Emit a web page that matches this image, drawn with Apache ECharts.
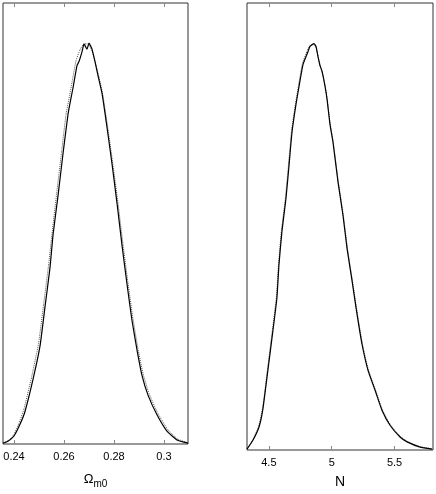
<!DOCTYPE html>
<html>
<head>
<meta charset="utf-8">
<script src="https://cdn.jsdelivr.net/npm/echarts@6/dist/echarts.min.js"></script>
<style>
  html, body { margin: 0; padding: 0; background: #fff; }
  #chart { width: 436px; height: 494px; }
</style>
</head>
<body>
<div id="chart"></div>
<script>
// Omega_m0 marginal posterior, [value, normalised density]
var omegaSolid = [
  [0.2356, 0.002], [0.2376, 0.007], [0.2400, 0.020], [0.2424, 0.049], [0.2444, 0.081],
  [0.2476, 0.161], [0.2504, 0.244], [0.2524, 0.342], [0.2544, 0.440], [0.2556, 0.521],
  [0.2576, 0.619], [0.2596, 0.724], [0.2616, 0.822], [0.2628, 0.863], [0.2636, 0.888],
  [0.2652, 0.944], [0.2660, 0.954], [0.2672, 0.978], [0.2680, 0.998], [0.2692, 0.985],
  [0.2700, 1.000], [0.2712, 0.985], [0.2724, 0.954], [0.2736, 0.919], [0.2752, 0.875],
  [0.2772, 0.790], [0.2792, 0.699], [0.2812, 0.601], [0.2832, 0.496], [0.2852, 0.399],
  [0.2872, 0.308], [0.2892, 0.235], [0.2912, 0.171], [0.2936, 0.122], [0.2972, 0.073],
  [0.3012, 0.032], [0.3052, 0.010], [0.3096, 0.002]
];
var omegaDotted = [
  [0.2356, 0.003], [0.2380, 0.010], [0.2400, 0.024], [0.2420, 0.052], [0.2440, 0.088],
  [0.2470, 0.166], [0.2498, 0.250], [0.2518, 0.346], [0.2538, 0.445], [0.2552, 0.524],
  [0.2570, 0.622], [0.2590, 0.727], [0.2608, 0.822], [0.2622, 0.868], [0.2632, 0.902],
  [0.2648, 0.956], [0.2664, 0.983], [0.2680, 0.998], [0.2696, 0.998], [0.2712, 0.980],
  [0.2726, 0.950], [0.2740, 0.915], [0.2756, 0.868], [0.2776, 0.785], [0.2796, 0.696],
  [0.2816, 0.601], [0.2836, 0.498], [0.2856, 0.402], [0.2876, 0.312], [0.2896, 0.238],
  [0.2916, 0.176], [0.2940, 0.126], [0.2976, 0.076], [0.3016, 0.035], [0.3056, 0.012],
  [0.3096, 0.003]
];
// N marginal posterior
var nSolid = [
  [4.326, 0.002], [4.373, 0.024], [4.421, 0.056], [4.452, 0.100], [4.492, 0.196],
  [4.532, 0.293], [4.564, 0.374], [4.580, 0.455], [4.604, 0.538], [4.636, 0.619],
  [4.660, 0.699], [4.684, 0.782], [4.716, 0.851], [4.740, 0.895], [4.772, 0.949],
  [4.811, 0.980], [4.827, 0.993], [4.859, 1.000], [4.875, 0.993], [4.891, 0.968],
  [4.907, 0.946], [4.923, 0.932], [4.947, 0.895], [4.963, 0.863], [4.986, 0.802],
  [5.010, 0.758], [5.050, 0.660], [5.090, 0.577], [5.122, 0.496], [5.162, 0.416],
  [5.202, 0.333], [5.242, 0.259], [5.289, 0.196], [5.345, 0.147], [5.400, 0.098],
  [5.464, 0.061], [5.544, 0.032], [5.600, 0.020], [5.703, 0.007], [5.799, 0.002]
];
var nDotted = [
  [4.326, 0.003], [4.372, 0.025], [4.418, 0.058], [4.450, 0.102], [4.489, 0.198],
  [4.528, 0.295], [4.560, 0.377], [4.577, 0.457], [4.600, 0.540], [4.632, 0.621],
  [4.656, 0.701], [4.680, 0.784], [4.712, 0.853], [4.736, 0.897], [4.766, 0.950],
  [4.804, 0.982], [4.824, 0.994], [4.855, 0.998], [4.876, 0.990], [4.893, 0.966],
  [4.909, 0.944], [4.925, 0.930], [4.949, 0.893], [4.965, 0.862], [4.988, 0.802],
  [5.012, 0.758], [5.052, 0.661], [5.092, 0.578], [5.125, 0.497], [5.165, 0.416],
  [5.205, 0.334], [5.245, 0.260], [5.292, 0.197], [5.348, 0.148], [5.403, 0.099],
  [5.467, 0.062], [5.547, 0.033], [5.603, 0.021], [5.706, 0.008], [5.799, 0.003]
];

var omegaTicks = [0.24, 0.26, 0.28, 0.30];
var omegaTickLabels = ['0.24', '0.26', '0.28', '0.3'];
var nTicks = [4.5, 5, 5.5];
var nTickLabels = ['4.5', '5', '5.5'];

var FONT = 'Liberation Sans, Arial, Helvetica, sans-serif';

// bottom axis with labels + top axis with ticks only
function makeX(gridIndex, min, max, ticks, labels, name, position) {
  var isBottom = position === 'bottom';
  return {
    type: 'value',
    gridIndex: gridIndex,
    position: position,
    min: min,
    max: max,
    axisLine: { show: false },
    splitLine: { show: false },
    axisTick: {
      show: true,
      inside: true,
      length: 4,
      customValues: ticks,
      lineStyle: { color: '#888', width: 1 }
    },
    axisLabel: {
      show: isBottom,
      customValues: ticks,
      margin: 7,
      fontFamily: FONT,
      fontSize: 11,
      color: '#000',
      formatter: function (v) {
        for (var i = 0; i < ticks.length; i++) {
          if (Math.abs(ticks[i] - v) < 1e-9) return labels[i];
        }
        return '';
      }
    },
    name: isBottom ? name : '',
    nameLocation: 'middle',
    nameGap: 25,
    nameTextStyle: {
      fontFamily: FONT,
      color: '#000',
      rich: {
        o: { fontFamily: FONT, fontSize: 13, color: '#000' },
        s: { fontFamily: FONT, fontSize: 10, color: '#000', padding: [10, 0, 0, 0], verticalAlign: 'bottom' },
        n: { fontFamily: FONT, fontSize: 14, color: '#000' }
      }
    }
  };
}

function makeY(gridIndex) {
  return {
    type: 'value',
    gridIndex: gridIndex,
    min: 0,
    max: 1.1,
    show: false
  };
}

function lineSeries(xi, data, dotted) {
  return {
    type: 'line',
    xAxisIndex: xi,
    yAxisIndex: xi < 2 ? 0 : 1,
    data: data,
    showSymbol: false,
    smooth: 0.15,
    silent: true,
    z: dotted ? 2 : 3,
    lineStyle: dotted
      ? { color: '#555', width: 1, type: 'dotted' }
      : { color: '#000', width: 1.2 }
  };
}

var chart = echarts.init(document.getElementById('chart'), null, { renderer: 'canvas' });
chart.setOption({
  backgroundColor: '#fff',
  animation: false,
  grid: [
    { left: 3, top: 3, width: 185, height: 450, show: true, borderColor: '#333', borderWidth: 1, backgroundColor: 'transparent' },
    { left: 247, top: 3, width: 186, height: 450, show: true, borderColor: '#333', borderWidth: 1, backgroundColor: 'transparent' }
  ],
  xAxis: [
    makeX(0, 0.2356, 0.3096, omegaTicks, omegaTickLabels, '{o|Ω}{s|m0}', 'bottom'),
    makeX(0, 0.2356, 0.3096, omegaTicks, omegaTickLabels, '', 'top'),
    makeX(1, 4.326, 5.806, nTicks, nTickLabels, '{n|N}', 'bottom'),
    makeX(1, 4.326, 5.806, nTicks, nTickLabels, '', 'top')
  ],
  yAxis: [makeY(0), makeY(1)],
  series: [
    lineSeries(0, omegaDotted, true),
    lineSeries(0, omegaSolid, false),
    lineSeries(2, nDotted, true),
    lineSeries(2, nSolid, false)
  ]
});
</script>
</body>
</html>
